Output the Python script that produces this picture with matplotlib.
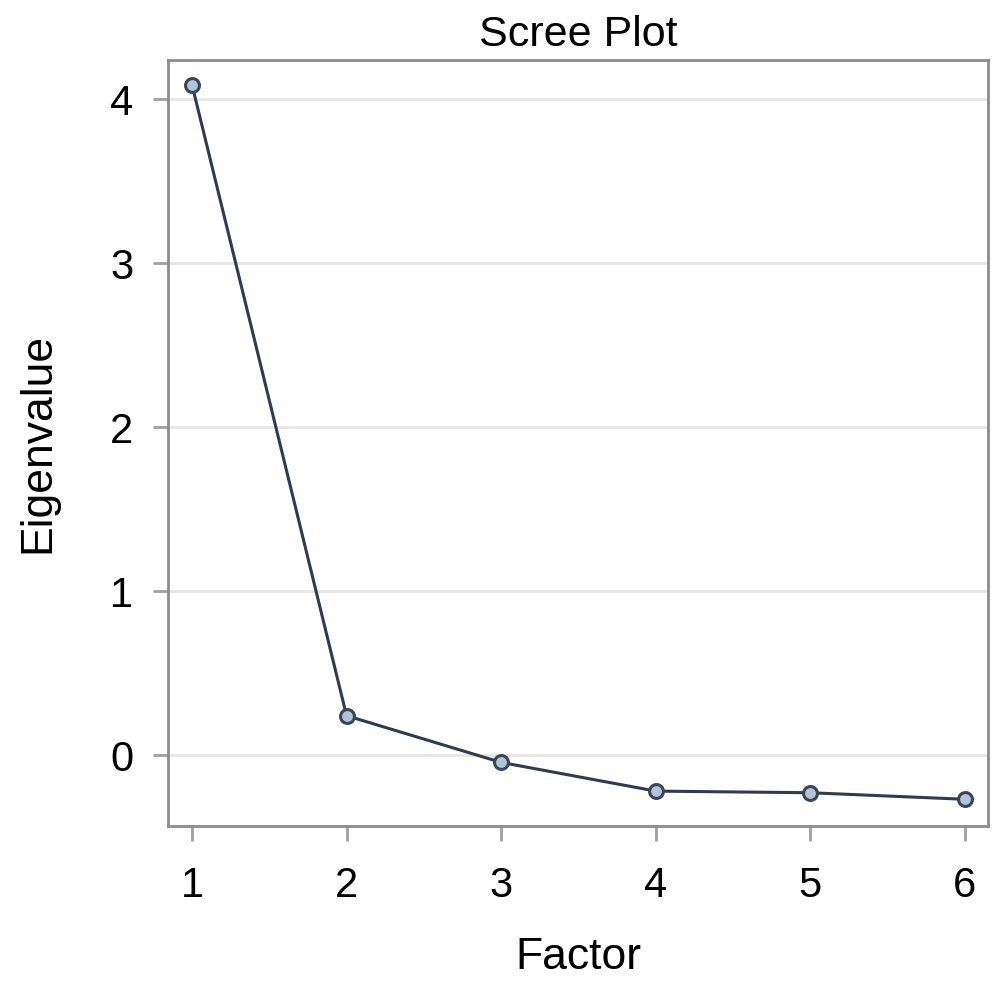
import numpy as np
import matplotlib.pyplot as plt

plt.rcParams['font.family'] = ['Liberation Sans', 'DejaVu Sans']

# scree plot values
factors = [1, 2, 3, 4, 5, 6]
eigenvalues = [4.09, 0.24, -0.045, -0.22, -0.23, -0.27]
yticks = [0, 1, 2, 3, 4]

fig = plt.figure(figsize=(9.94, 9.85), dpi=100)
ax = fig.add_axes([0.169, 0.1614, 0.825, 0.7777])

ax.plot(factors, eigenvalues, color='#2f3b4e', lw=2.2, marker='o', ms=10,
        mfc='#b4c4d8', mec='#3a4658', mew=2.2, zorder=3)

ax.set_xlim(0.845, 6.149)
ax.set_ylim(-0.433, 4.24)
ax.set_xticks(factors)
ax.set_yticks(yticks)
ax.yaxis.grid(True, color='#e6e6e6', lw=2)
ax.set_axisbelow(True)

for s in ax.spines.values():
    s.set_color('#8c8c8c')
    s.set_linewidth(2)
ax.tick_params(colors='#a0a0a0', labelcolor='black', length=11, width=2,
               labelsize=30)
ax.tick_params(axis='x', pad=18)
ax.tick_params(axis='y', pad=14)

ax.set_title('Scree Plot', fontsize=31, pad=10)
ax.set_xlabel('Factor', fontsize=32, labelpad=22)
ax.set_ylabel('Eigenvalue', fontsize=32, labelpad=37)

fig.savefig('out.png', dpi=100)
